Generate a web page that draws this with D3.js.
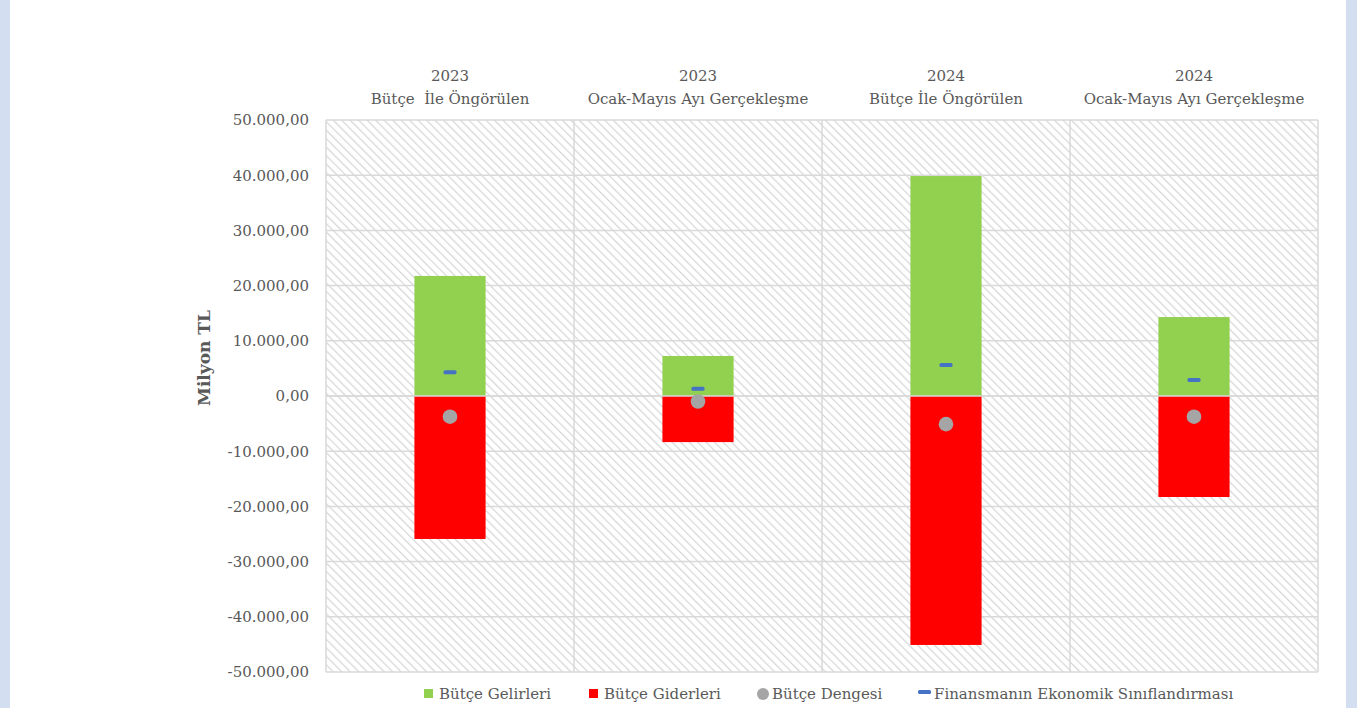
<!DOCTYPE html>
<html><head><meta charset="utf-8">
<script src="https://cdn.jsdelivr.net/npm/d3@7/dist/d3.min.js"></script>
<style>
html,body{margin:0;padding:0;background:#fff;}
svg{display:block;}
</style></head>
<body>
<svg id="chart" width="1357" height="708"></svg>
<script>
const categoryYears = ["2023", "2023", "2024", "2024"];
const categoryNames = ["Bütçe  İle Öngörülen", "Ocak-Mayıs Ayı Gerçekleşme", "Bütçe İle Öngörülen", "Ocak-Mayıs Ayı Gerçekleşme"];
const revenues = [21750, 7250, 39850, 14300];
const expenses = [-25900, -8350, -45100, -18300];
const balance = [-3750, -1000, -5100, -3750];
const financing = [4300, 1300, 5600, 2900];
const yTicks = [50000, 40000, 30000, 20000, 10000, 0, -10000, -20000, -30000, -40000, -50000];
const seriesNames = ["Bütçe Gelirleri", "Bütçe Giderleri", "Bütçe Dengesi", "Finansmanın Ekonomik Sınıflandırması"];

const FONT = "'DejaVu Serif', serif";
const TXT = "#595959";
const svg = d3.select("#chart");

// page side borders
svg.append("rect").attr("x",0).attr("y",0).attr("width",10).attr("height",708).attr("fill","#d3dff0");
svg.append("rect").attr("x",1346).attr("y",0).attr("width",11).attr("height",708).attr("fill","#d3dff0");

const L = 326, R = 1318, T = 120, B = 672;
const idx = d3.range(categoryYears.length);
const x = d3.scaleBand().domain(idx).range([L, R]).paddingInner(0).paddingOuter(0);
const y = d3.scaleLinear().domain([-50000, 50000]).range([B, T]);

// hatch pattern
const defs = svg.append("defs");
const pat = defs.append("pattern").attr("id","hatch").attr("patternUnits","userSpaceOnUse")
  .attr("width",6).attr("height",6).attr("patternTransform","rotate(-45)");
pat.append("rect").attr("width",6).attr("height",6).attr("fill","#fff");
pat.append("line").attr("x1",0).attr("y1",0).attr("x2",0).attr("y2",6)
  .attr("stroke","#d6d6d6").attr("stroke-width",2.4);

svg.append("rect").attr("x",L).attr("y",T).attr("width",R-L).attr("height",B-T).attr("fill","url(#hatch)");

// horizontal gridlines
svg.append("g").selectAll("line").data(yTicks).join("line")
  .attr("x1",L).attr("x2",R).attr("y1",d=>y(d)).attr("y2",d=>y(d))
  .attr("stroke","#d9d9d9").attr("stroke-width",1.5);
// vertical separators
svg.append("g").selectAll("line").data(d3.range(categoryYears.length+1)).join("line")
  .attr("x1",d=>L + d*x.bandwidth()).attr("x2",d=>L + d*x.bandwidth())
  .attr("y1",T).attr("y2",B).attr("stroke","#d9d9d9").attr("stroke-width",1.5);

// y-axis tick labels
const yAxis = d3.axisLeft(y).tickValues(yTicks).tickSize(0).tickPadding(0)
  .tickFormat(d => {
    const s = Math.abs(d).toFixed(0).replace(/\B(?=(\d{3})+(?!\d))/g, ".") + ",00";
    return (d < 0 ? "-" : "") + s;
  });
const ga = svg.append("g").attr("transform",`translate(309,0)`).call(yAxis);
ga.select(".domain").remove();
ga.selectAll("text").attr("font-family",FONT).attr("font-size",15).attr("fill",TXT);

// y label
svg.append("text").attr("transform","translate(210,358) rotate(-90)")
  .attr("text-anchor","middle").attr("font-family",FONT).attr("font-size",17)
  .attr("font-weight","bold").attr("fill",TXT).text("Milyon TL");

// category labels (top)
const cat = svg.append("g").selectAll("g").data(idx).join("g");
cat.append("text").attr("x",i=>x(i)+x.bandwidth()/2).attr("y",81)
  .attr("text-anchor","middle").attr("font-family",FONT).attr("font-size",15).attr("fill",TXT)
  .attr("xml:space","preserve").text(i=>categoryYears[i]);
cat.append("text").attr("x",i=>x(i)+x.bandwidth()/2).attr("y",104)
  .attr("text-anchor","middle").attr("font-family",FONT).attr("font-size",15).attr("fill",TXT)
  .attr("xml:space","preserve").text(i=>categoryNames[i]);

// bars
const bw = x.bandwidth()*0.287;
const cx = i => x(i) + x.bandwidth()/2;
svg.append("g").selectAll("rect").data(idx).join("rect")
  .attr("x",i=>cx(i)-bw/2).attr("width",bw)
  .attr("y",i=>y(revenues[i])).attr("height",i=>y(0)-y(revenues[i]))
  .attr("fill","#92d050");
svg.append("g").selectAll("rect").data(idx).join("rect")
  .attr("x",i=>cx(i)-bw/2).attr("width",bw)
  .attr("y",y(0)).attr("height",i=>y(expenses[i])-y(0))
  .attr("fill","#ff0000");
// zero line on top
svg.append("line").attr("x1",L).attr("x2",R).attr("y1",y(0)).attr("y2",y(0))
  .attr("stroke","#d9d9d9").attr("stroke-width",1.5);

// balance dots
svg.append("g").selectAll("circle").data(idx).join("circle")
  .attr("cx",i=>cx(i)).attr("cy",i=>y(balance[i])).attr("r",7.3).attr("fill","#a5a5a5");
// financing dashes
svg.append("g").selectAll("rect").data(idx).join("rect")
  .attr("x",i=>cx(i)-6.5).attr("y",i=>y(financing[i])-2).attr("width",13).attr("height",4)
  .attr("rx",1.5).attr("fill","#4472c4");

// legend
const lg = svg.append("g");
const ly = 694;
lg.append("rect").attr("x",424).attr("y",ly-5).attr("width",9).attr("height",9).attr("fill","#92d050");
lg.append("text").attr("x",439).attr("y",ly+5).text(seriesNames[0]);
lg.append("rect").attr("x",589).attr("y",ly-5).attr("width",9).attr("height",9).attr("fill","#ff0000");
lg.append("text").attr("x",604).attr("y",ly+5).text(seriesNames[1]);
lg.append("circle").attr("cx",763).attr("cy",ly).attr("r",6).attr("fill","#a5a5a5");
lg.append("text").attr("x",772).attr("y",ly+5).text(seriesNames[2]);
lg.append("rect").attr("x",918).attr("y",ly-4).attr("width",13).attr("height",4).attr("rx",1.5).attr("fill","#4472c4");
lg.append("text").attr("x",934).attr("y",ly+5).text(seriesNames[3]);
lg.selectAll("text").attr("font-family",FONT).attr("font-size",15).attr("fill",TXT);
</script>
</body></html>
